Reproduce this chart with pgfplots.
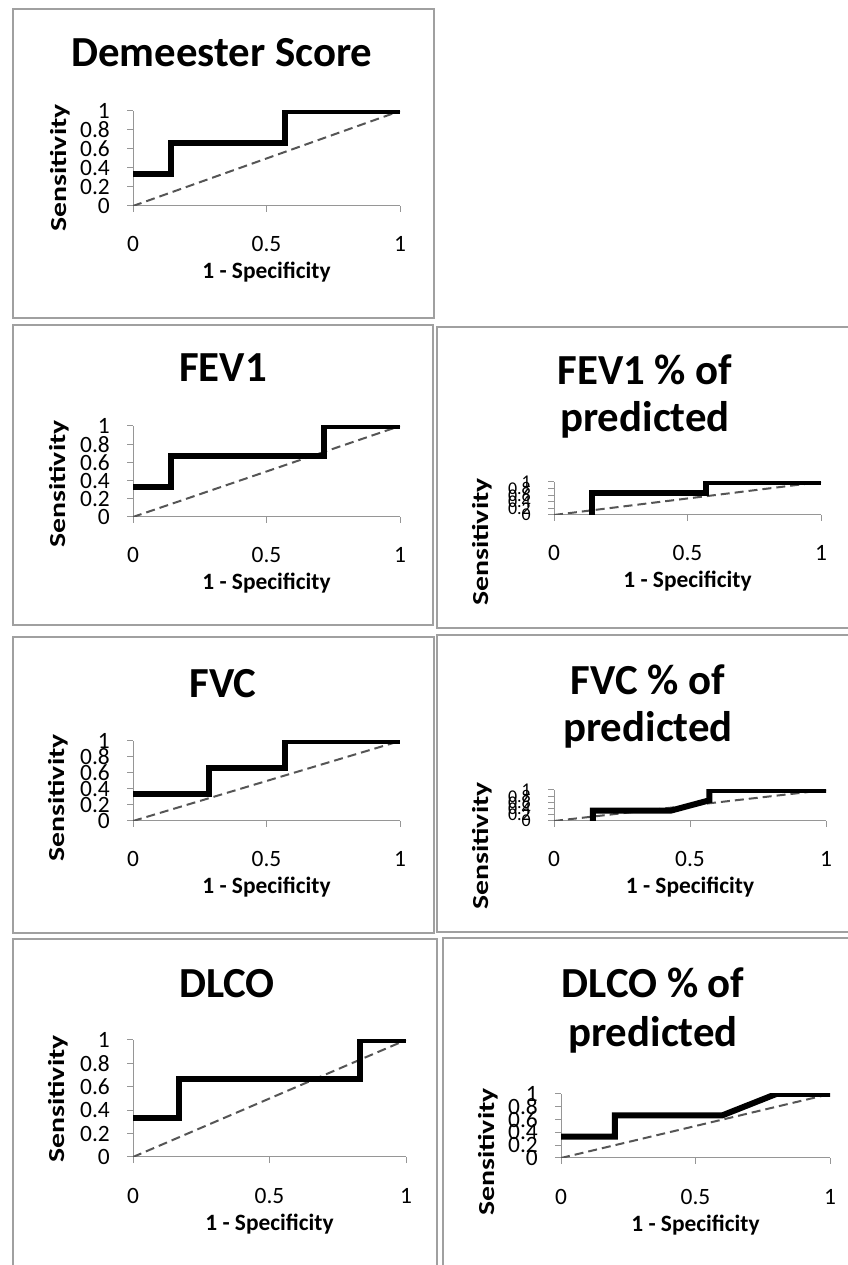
\documentclass[border=0pt]{standalone}
\usepackage{fontspec}
\setmainfont{Carlito}
\usepackage{pgfplots}
\pgfplotsset{compat=1.18}
\definecolor{axgray}{RGB}{150,150,150}
\definecolor{framegray}{RGB}{160,160,160}
\definecolor{dashgray}{RGB}{85,85,85}
\pgfplotsset{
 rocax/.style={
  scale only axis, xmin=0, xmax=1, ymin=0, ymax=1,
  axis x line=bottom, axis y line=left,
  axis line style={-, draw=axgray, line width=1bp},
  xtick={0,0.5,1}, xticklabels={0,0.5,1},
  ytick={0,0.2,0.4,0.6,0.8,1}, yticklabels={0,0.2,0.4,0.6,0.8,1},
  tick align=outside, major tick length=6bp,
  every tick/.style={draw=axgray, line width=1bp},
  /pgf/number format/assume math mode=true,
  tick label style={font=\fontsize{23.5}{23.5}\selectfont},
  xticklabel style={anchor=base, yshift=-40bp},
  yticklabel style={anchor=east, inner sep=0pt, xshift=-17bp},
  xlabel={1 - Specificity},
  xlabel style={at={(axis description cs:0.5,0)}, anchor=base, yshift=-73bp, font=\fontsize{23.5}{23.5}\selectfont\bfseries},
 },
 roc/.style={black, line width=6bp, line join=miter, line cap=butt},
 chance/.style={dashgray, line width=2bp, dash pattern=on 9bp off 5bp},
 smalltick/.style={yticklabel style={font=\fontsize{18}{18}\selectfont}},
}
\begin{document}
\begin{tikzpicture}[x=1bp,y=1bp]
\useasboundingbox (0,0) rectangle (848,1265);
% frames
\begin{scope}[draw=framegray, line width=2bp]
\draw (13,1256) rectangle (434,947);
\draw (13,940) rectangle (433,640);
\draw (437,938) rectangle (852,637);
\draw (13,628) rectangle (434,332);
\draw (437,630) rectangle (852,333);
\draw (13,326) rectangle (437,-5);
\draw (443,327) rectangle (852,-5);
\end{scope}
% titles
\begin{scope}[font=\fontsize{43}{43}\selectfont\bfseries]
\node[anchor=base] at (222,1198) {Demeester Score};
\node[anchor=base] at (223,883) {FEV1};
\node[anchor=base] at (645,880) {FEV1 \% of};
\node[anchor=base] at (645,833) {predicted};
\node[anchor=base] at (223,567) {FVC};
\node[anchor=base] at (648,570) {FVC \% of};
\node[anchor=base] at (648,523) {predicted};
\node[anchor=base] at (227,267) {DLCO};
\node[anchor=base] at (653,267) {DLCO \% of};
\node[anchor=base] at (653,218) {predicted};
\end{scope}
% y labels
\begin{scope}[font=\fontsize{23}{23}\selectfont\bfseries]
\node[rotate=90, xscale=1.3] at (60,1097) {Sensitivity};
\node[rotate=90, xscale=1.3] at (59,781) {Sensitivity};
\node[rotate=90, xscale=1.3] at (482,723) {Sensitivity};
\node[rotate=90, xscale=1.3] at (58,467) {Sensitivity};
\node[rotate=90, xscale=1.3] at (482,419) {Sensitivity};
\node[rotate=90, xscale=1.3] at (58,166) {Sensitivity};
\node[rotate=90, xscale=1.3] at (488,113) {Sensitivity};
\end{scope}
% Demeester Score
\begin{axis}[rocax, at={(133bp,1059bp)}, anchor=south west, width=267bp, height=95bp]
\addplot[chance] coordinates {(0,0) (1,1)};
\addplot[roc] coordinates {(0,0.333) (0.143,0.333) (0.143,0.667) (0.571,0.667) (0.571,1) (1,1)};
\end{axis}
% FEV1
\begin{axis}[rocax, at={(133bp,748bp)}, anchor=south west, width=267bp, height=91bp]
\addplot[chance] coordinates {(0,0) (1,1)};
\addplot[roc] coordinates {(0,0.333) (0.143,0.333) (0.143,0.667) (0.714,0.667) (0.714,1) (1,1)};
\end{axis}
% FEV1 % of predicted
\begin{axis}[rocax, smalltick, at={(554bp,750bp)}, anchor=south west, width=267bp, height=33bp]
\addplot[chance] coordinates {(0,0) (1,1)};
\addplot[roc] coordinates {(0.143,0) (0.143,0.667) (0.571,0.667) (0.571,1) (1,1)};
\end{axis}
% FVC
\begin{axis}[rocax, at={(133bp,444bp)}, anchor=south west, width=267bp, height=80bp]
\addplot[chance] coordinates {(0,0) (1,1)};
\addplot[roc] coordinates {(0,0.333) (0.286,0.333) (0.286,0.667) (0.571,0.667) (0.571,1) (1,1)};
\end{axis}
% FVC % of predicted
\begin{axis}[rocax, smalltick, at={(554bp,444bp)}, anchor=south west, width=272bp, height=31bp]
\addplot[chance] coordinates {(0,0) (1,1)};
\addplot[roc] coordinates {(0.143,0) (0.143,0.333) (0.429,0.333) (0.571,0.667) (0.571,1) (1,1)};
\end{axis}
% DLCO
\begin{axis}[rocax, at={(133bp,108bp)}, anchor=south west, width=273bp, height=117bp]
\addplot[chance] coordinates {(0,0) (1,1)};
\addplot[roc] coordinates {(0,0.333) (0.167,0.333) (0.167,0.667) (0.833,0.667) (0.833,1) (1,1)};
\end{axis}
% DLCO % of predicted
\begin{axis}[rocax, at={(561bp,107bp)}, anchor=south west, width=269bp, height=64bp]
\addplot[chance] coordinates {(0,0) (1,1)};
\addplot[roc] coordinates {(0,0.333) (0.2,0.333) (0.2,0.667) (0.6,0.667) (0.8,1) (1,1)};
\end{axis}
\end{tikzpicture}
\end{document}
